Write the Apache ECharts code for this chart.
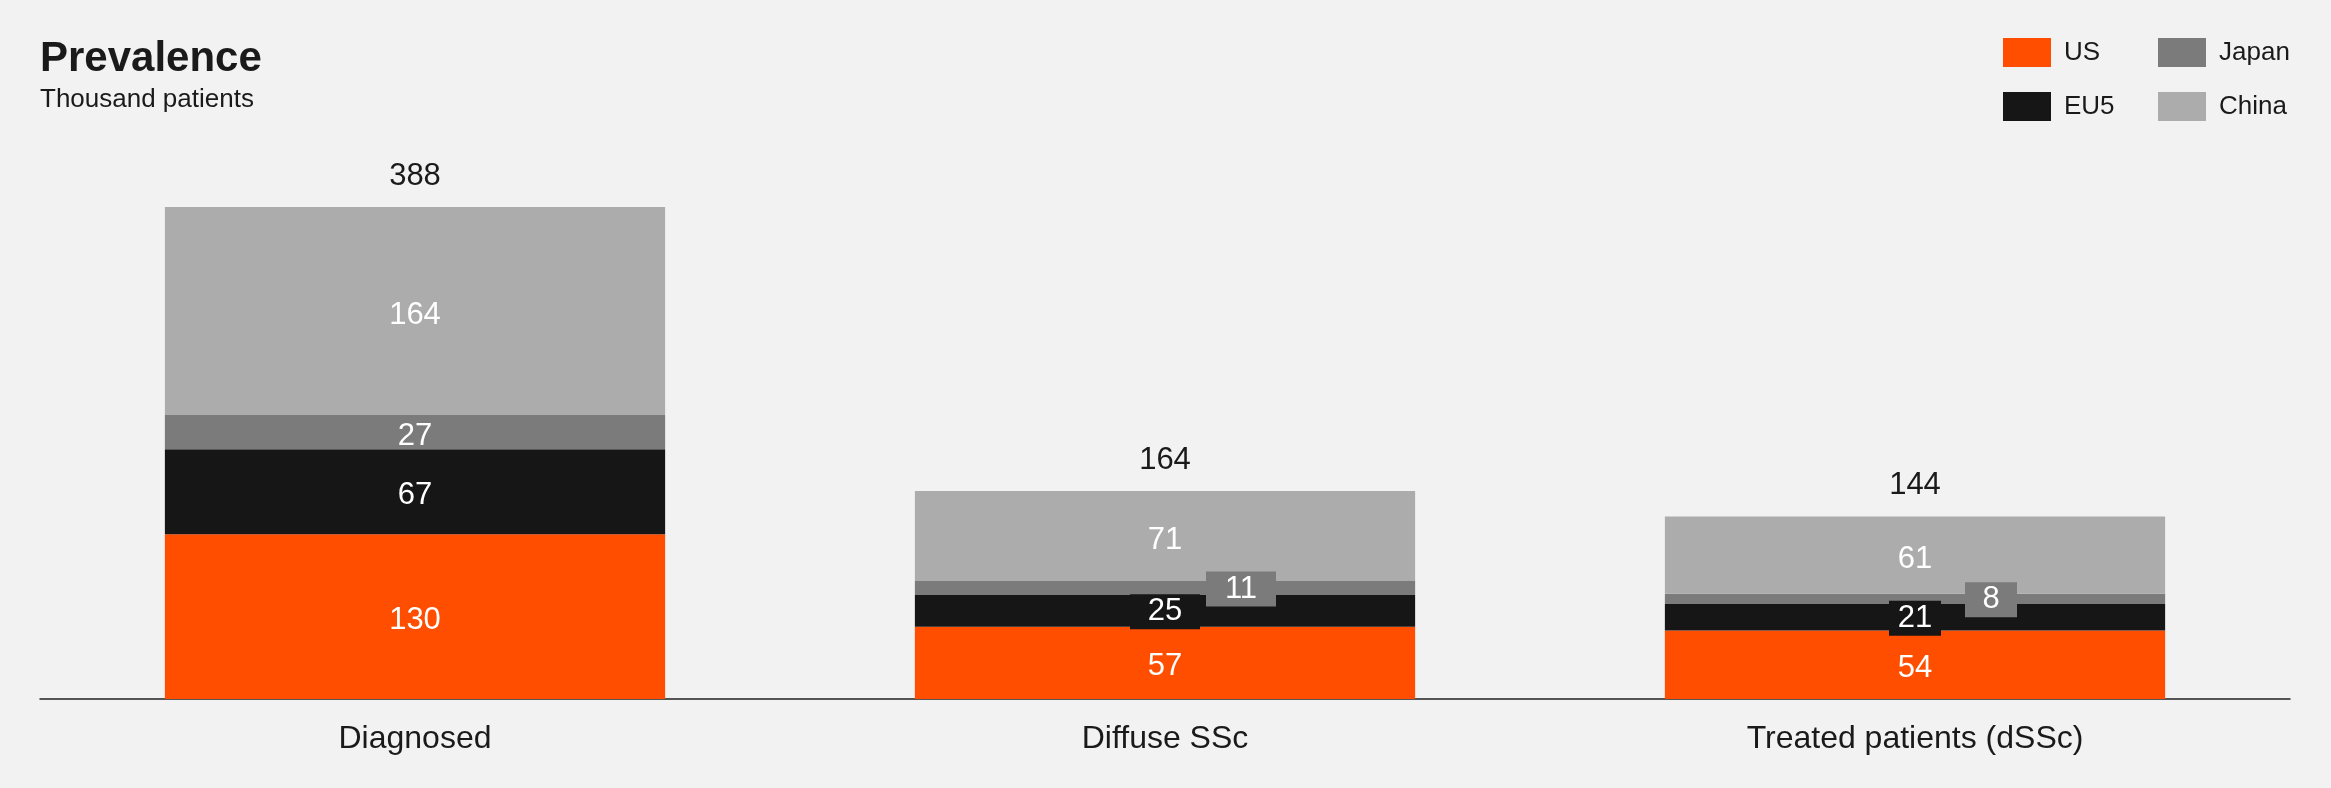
<!DOCTYPE html>
<html>
<head>
<meta charset="utf-8">
<script src="https://cdn.jsdelivr.net/npm/echarts@6/dist/echarts.min.js"></script>
<style>
  html, body { margin: 0; padding: 0; background: #f2f2f2; }
  #chart { width: 2331px; height: 788px; }
</style>
</head>
<body>
<div id="chart"></div>
<script>
const categories = ["Diagnosed", "Diffuse SSc", "Treated patients (dSSc)"];
const usValues = [130, 57, 54];
const eu5Values = [67, 25, 21];
const japanValues = [27, 11, 8];
const chinaValues = [164, 71, 61];
const totals = [388, 164, 144];

const FONT = "Liberation Sans, Arial, sans-serif";
const colors = { US: "#ff4e00", EU5: "#161616", Japan: "#7b7b7b", China: "#acacac" };

// small segments get a boxed label, Japan ones pushed to the right
const boxWidth = [null, 70, 52];

function segment(name, values, boxed, shift) {
  return {
    name: name,
    type: "bar",
    stack: "total",
    barWidth: "66.7%",
    itemStyle: { color: colors[name] },
    label: {
      show: true,
      position: "inside",
      color: "#fff",
      fontSize: 31,
      fontFamily: FONT,
      offset: [0, 4]
    },
    data: values.map(function (v, i) {
      if (!boxed || !boxWidth[i]) return v;
      return {
        value: v,
        label: {
          backgroundColor: colors[name],
          width: boxWidth[i],
          height: 30,
          lineHeight: 30,
          padding: [5, 0, 0, 0],
          align: "center",
          offset: [shift, 1]
        }
      };
    })
  };
}

const legendStyle = {
  orient: "vertical",
  top: 38,
  padding: 0,
  itemWidth: 48,
  itemHeight: 29,
  itemGap: 25,
  icon: "rect",
  textStyle: { fontSize: 26, color: "#1a1a1a", fontFamily: FONT, padding: [0, 0, 0, 8] }
};

const chart = echarts.init(document.getElementById("chart"));
chart.setOption({
  backgroundColor: "#f2f2f2",
  animation: false,
  title: [
    {
      text: "Prevalence",
      left: 40,
      top: 38,
      padding: 0,
      textStyle: { fontSize: 42, fontWeight: "bold", color: "#1a1a1a", fontFamily: FONT }
    },
    {
      text: "Thousand patients",
      left: 40,
      top: 87,
      padding: 0,
      textStyle: { fontSize: 26, fontWeight: "normal", color: "#1a1a1a", fontFamily: FONT }
    }
  ],
  legend: [
    Object.assign({ data: ["US", "EU5"], left: 2003 }, legendStyle),
    Object.assign({ data: ["Japan", "China"], left: 2158 }, legendStyle)
  ],
  grid: { left: 40, right: 41, top: 207, bottom: 89, containLabel: false },
  xAxis: {
    type: "category",
    data: categories,
    axisLine: { lineStyle: { color: "#222", width: 1.5 } },
    axisTick: { show: false },
    axisLabel: { fontSize: 32, color: "#1a1a1a", fontFamily: FONT, margin: 24 }
  },
  yAxis: {
    type: "value",
    min: 0,
    max: 388,
    show: false,
    splitLine: { show: false }
  },
  series: [
    segment("US", usValues, false, 0),
    segment("EU5", eu5Values, true, 0),
    segment("Japan", japanValues, true, 76),
    segment("China", chinaValues, false, 0),
    {
      name: "Total",
      type: "bar",
      stack: "total",
      barWidth: "66.7%",
      itemStyle: { color: "transparent" },
      label: {
        show: true,
        position: "top",
        distance: 15,
        fontSize: 31,
        color: "#1a1a1a",
        fontFamily: FONT,
        formatter: function (p) { return totals[p.dataIndex]; }
      },
      data: totals.map(function () { return 0; })
    }
  ]
});
</script>
</body>
</html>
